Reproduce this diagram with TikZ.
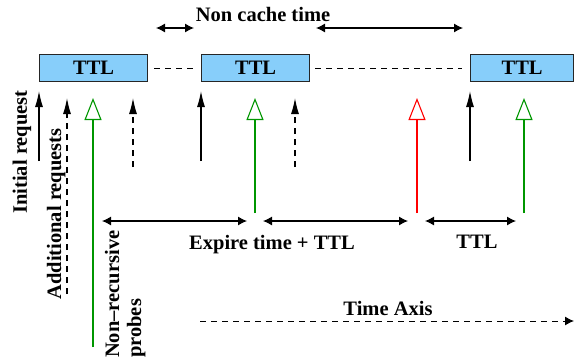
\documentclass[tikz,border=0pt]{standalone}
\usepackage{fontspec}
\setmainfont{Liberation Serif}
\usetikzlibrary{arrows.meta}
\definecolor{boxblue}{RGB}{135,206,250}
\definecolor{probegreen}{RGB}{0,150,0}
\begin{document}
\begin{tikzpicture}[x=1pt,y=-1pt,
  font=\fontsize{20.5}{22}\selectfont\bfseries,
  ttlbox/.style={draw=black!85, line width=1.3pt, fill=boxblue, minimum height=27pt, inner sep=0pt, anchor=north west},
  req/.style={line width=1.1pt, -{Latex[length=16pt,width=8pt]}},
  addreq/.style={req, dash pattern=on 6pt off 5pt},
  probe/.style={line width=1.1pt, -{Triangle[open,length=22pt,width=17pt]}},
  span/.style={line width=1.1pt, {Latex[length=9pt,width=9pt]}-{Latex[length=9pt,width=9pt]}},
  gap/.style={line width=1pt, dash pattern=on 6pt off 5pt},
  lbl/.style={inner sep=0pt}]
\useasboundingbox (0,0) rectangle (574,362);

% TTL boxes
\node[ttlbox, minimum width=108pt] (b1) at (39,54) {TTL};
\node[ttlbox, minimum width=108pt] (b2) at (201,54) {TTL};
\node[ttlbox, minimum width=103pt] (b3) at (470,54) {TTL};

% dashed gaps between boxes
\coordinate (g1a) at (154,68); \coordinate (g1b) at (193,68);
\coordinate (g2a) at (315,68); \coordinate (g2b) at (462,68);
\draw[gap] (g1a) -- (g1b);
\draw[gap] (g2a) -- (g2b);

% non cache time
\node[lbl, anchor=base] (nct) at (263,21) {Non cache time};
\coordinate (n1a) at (156,28); \coordinate (n1b) at (194,28);
\coordinate (n2a) at (316,28); \coordinate (n2b) at (463,28);
\draw[span] (n1a) -- (n1b);
\draw[span] (n2a) -- (n2b);

% request arrows
\coordinate (r1s) at (39,161);  \coordinate (r1e) at (39,91);
\coordinate (r2s) at (201,161); \coordinate (r2e) at (201,91);
\coordinate (r3s) at (470,161); \coordinate (r3e) at (470,91);
\draw[req] (r1s) -- (r1e);
\draw[req] (r2s) -- (r2e);
\draw[req] (r3s) -- (r3e);

% additional requests (dashed)
\coordinate (a1s) at (67,294);  \coordinate (a1e) at (67,98);
\coordinate (a2s) at (133,167); \coordinate (a2e) at (133,98);
\coordinate (a3s) at (295,167); \coordinate (a3e) at (295,98);
\draw[addreq] (a1s) -- (a1e);
\draw[addreq] (a2s) -- (a2e);
\draw[addreq] (a3s) -- (a3e);

% probes
\coordinate (p1s) at (93,347);  \coordinate (p1e) at (93,98);
\coordinate (p2s) at (255,213); \coordinate (p2e) at (255,98);
\coordinate (p3s) at (417,213); \coordinate (p3e) at (417,98);
\coordinate (p4s) at (524,213); \coordinate (p4e) at (524,98);
\draw[probe, probegreen] (p1s) -- (p1e);
\draw[probe, probegreen] (p2s) -- (p2e);
\draw[probe, red] (p3s) -- (p3e);
\draw[probe, probegreen] (p4s) -- (p4e);

% lower spans
\coordinate (s1a) at (102,221); \coordinate (s1b) at (247,221);
\coordinate (s2a) at (263,221); \coordinate (s2b) at (408,221);
\coordinate (s3a) at (425,221); \coordinate (s3b) at (516,221);
\draw[span] (s1a) -- (s1b);
\draw[span] (s2a) -- (s2b);
\draw[span] (s3a) -- (s3b);
\node[lbl, anchor=base] (ettl) at (272,249) {Expire time + TTL};
\node[lbl, anchor=base] (ttl) at (477,248) {TTL};

% time axis
\coordinate (t1) at (200,321); \coordinate (t2) at (574,321);
\draw[gap, -{Latex[length=9pt,width=9pt]}] (t1) -- (t2);
\node[lbl, anchor=base] (tax) at (388,315) {Time Axis};

% rotated labels
\node[lbl, rotate=90, anchor=base] (init) at (27,152) {Initial request};
\node[lbl, rotate=90, anchor=base] (addl) at (61,214) {Additional requests};
\node[lbl, rotate=90, anchor=base west] (nonr) at (119,358) {Non–recursive};
\node[lbl, rotate=90, anchor=base west] (prob) at (141,358) {probes};
\end{tikzpicture}
\end{document}
